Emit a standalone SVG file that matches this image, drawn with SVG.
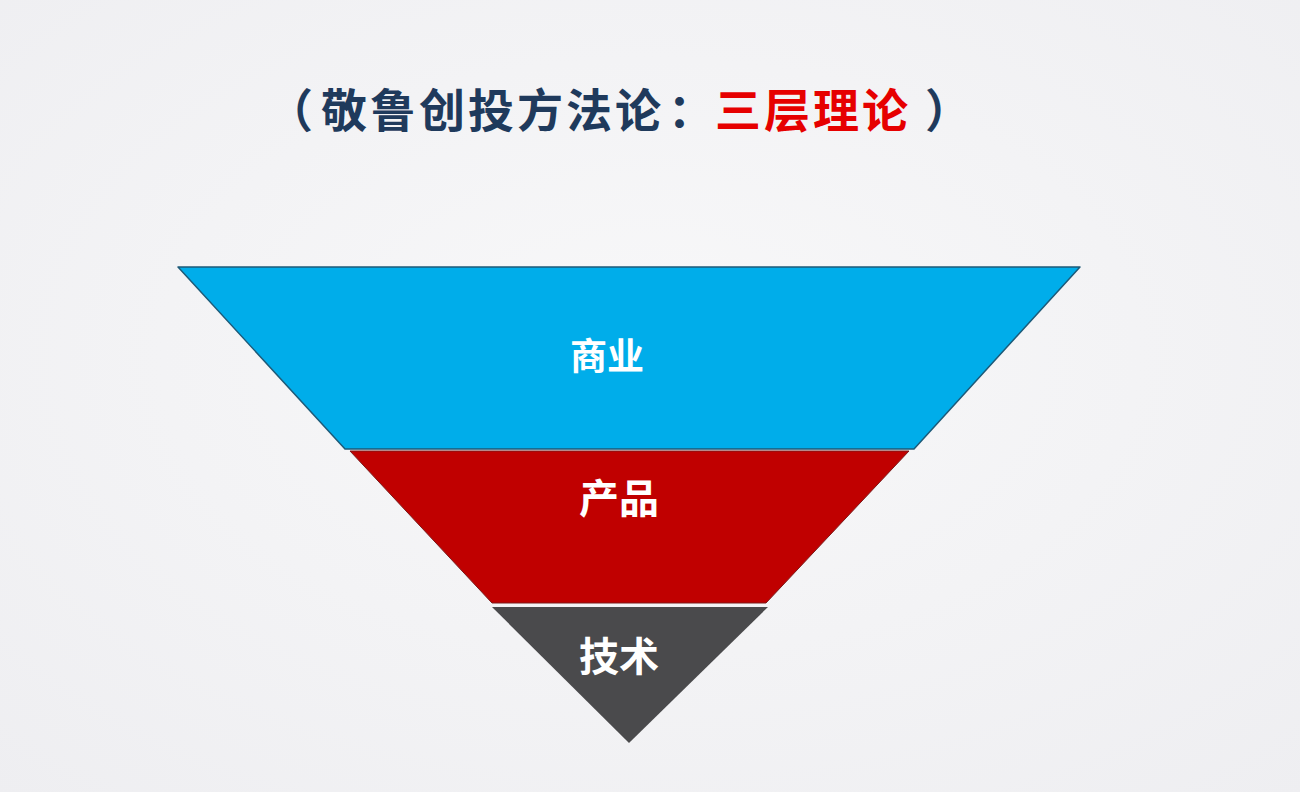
<svg xmlns="http://www.w3.org/2000/svg" width="1300" height="792" viewBox="0 0 1300 792">
<defs>
<radialGradient id="bg" cx="0.5" cy="0.45" r="0.75">
<stop offset="0" stop-color="#f8f8f9"/>
<stop offset="1" stop-color="#eeeef1"/>
</radialGradient>
</defs>
<style>
.title{font-family:"Noto Sans CJK SC","Noto Sans",sans-serif;font-weight:bold;font-size:46px;letter-spacing:3px}
.lbl{font-family:"Noto Sans CJK SC","Noto Sans",sans-serif;font-weight:bold;fill:#ffffff;text-anchor:middle}
</style>
<rect width="1300" height="792" fill="url(#bg)"/>
<g id="title">
<text class="title" y="127"><tspan x="267" fill="#1f3a5c">（</tspan><tspan x="321" fill="#1f3a5c">敬鲁创投方法论</tspan><tspan x="668" fill="#1f3a5c">：</tspan><tspan x="715" fill="#e60000">三层理论</tspan><tspan x="925" fill="#1f3a5c">）</tspan></text>
</g>
<g id="layer-business">
<polygon points="178,267 1080,267 914,449 345,449" fill="#00adea" stroke="#1d5a78" stroke-width="1.5" stroke-linejoin="round"/>
<text class="lbl" x="607" y="370" font-size="37">商业</text>
</g>
<g id="layer-product">
<polygon points="350,451 909,451 766,603 492,603" fill="#c00000" stroke="#7a1a1a" stroke-width="1"/>
<text class="lbl" x="619" y="513" font-size="40">产品</text>
</g>
<g id="layer-tech">
<polygon points="492,607 768,607 629,743" fill="#4a4a4c"/>
<text class="lbl" x="619" y="671" font-size="40">技术</text>
</g>
</svg>
